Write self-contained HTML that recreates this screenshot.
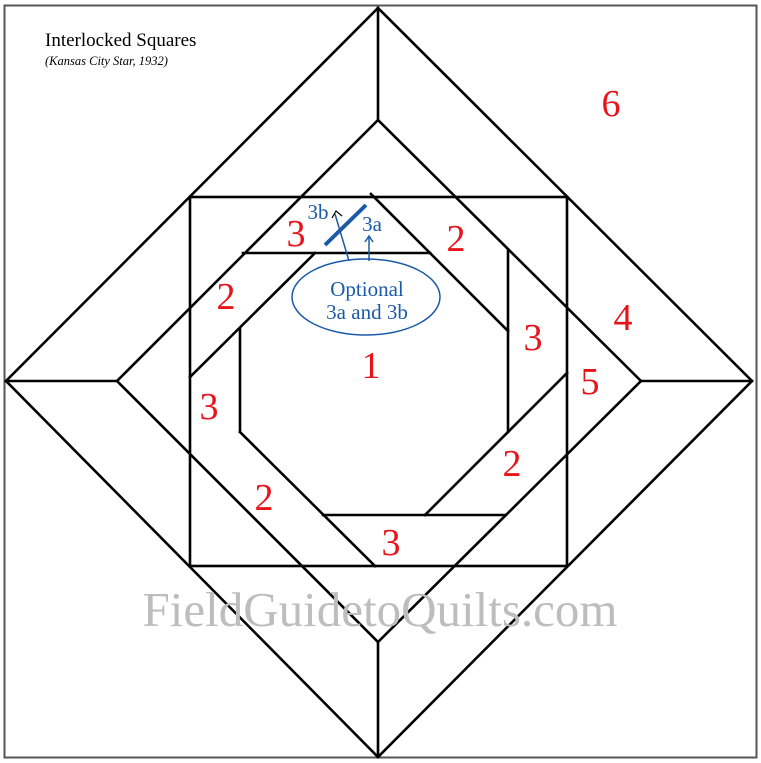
<!DOCTYPE html>
<html><head><style>
html,body{margin:0;padding:0;background:#fff;}
svg{display:block;}
</style></head><body>
<svg width="761" height="763" viewBox="0 0 761 763" xmlns="http://www.w3.org/2000/svg">
<rect x="4.5" y="5.5" width="752" height="752" fill="#fff" stroke="#555" stroke-width="2"/>
<g stroke="#000" stroke-width="2.6" fill="none" stroke-linecap="square">
<polygon points="378,8 752,381 378,757 6,381"/>
<polygon points="378,120 641,381 378,642 117,381"/>
<line x1="378" y1="8" x2="378" y2="120"/>
<line x1="6" y1="381" x2="117" y2="381"/>
<line x1="641" y1="381" x2="752" y2="381"/>
<line x1="378" y1="642" x2="378" y2="757"/>
<rect x="190" y="197" width="377" height="369"/>
<line x1="371" y1="194" x2="508" y2="331"/>
<line x1="190" y1="377" x2="315" y2="253"/>
<line x1="240" y1="432" x2="375" y2="566"/>
<line x1="425" y1="515" x2="567" y2="373"/>
<line x1="240" y1="328" x2="240" y2="432"/>
<line x1="508" y1="250" x2="508" y2="432"/>
<line x1="243" y1="253" x2="430" y2="253"/>
<line x1="323" y1="515" x2="505" y2="515"/>
</g>
<g font-family="Liberation Serif, serif" fill="#e8141c" font-size="38" text-anchor="middle">
<text x="611" y="116">6</text>
<text x="296" y="246">3</text>
<text x="456" y="251">2</text>
<text x="226" y="309">2</text>
<text x="623" y="330">4</text>
<text x="533" y="350">3</text>
<text x="371" y="378">1</text>
<text x="590" y="394">5</text>
<text x="209" y="419">3</text>
<text x="512" y="476">2</text>
<text x="264" y="510">2</text>
<text x="391" y="555">3</text>
</g>
<text x="45" y="46" font-family="Liberation Serif, serif" font-size="19" fill="#000">Interlocked Squares</text>
<text x="45" y="65" font-family="Liberation Serif, serif" font-style="italic" font-size="12.5" fill="#000">(Kansas City Star, 1932)</text>
<text x="380" y="626" text-anchor="middle" font-family="Liberation Serif, serif" font-size="49" fill="#bdbdbd">FieldGuidetoQuilts.com</text>
<g stroke="#1a5aa8" fill="none">
<line x1="325" y1="245" x2="366" y2="205" stroke-width="4"/>
<line x1="349" y1="261" x2="335" y2="214" stroke-width="1.5"/>
<line x1="369" y1="261" x2="369" y2="237" stroke-width="1.5"/>
<polyline points="365,242 369,236 373,242" stroke-width="1.5"/>
<ellipse cx="366" cy="297" rx="74" ry="38" stroke-width="1.5"/>
</g>
<polyline points="332,218 336,211 342,216" stroke="#000" fill="none" stroke-width="1.2"/>
<g font-family="Liberation Serif, serif" fill="#1a5aa8" font-size="21" text-anchor="middle">
<text x="318" y="219">3b</text>
<text x="372" y="231">3a</text>
<text x="367" y="296">Optional</text>
<text x="367" y="319">3a and 3b</text>
</g>
</svg>
</body></html>
